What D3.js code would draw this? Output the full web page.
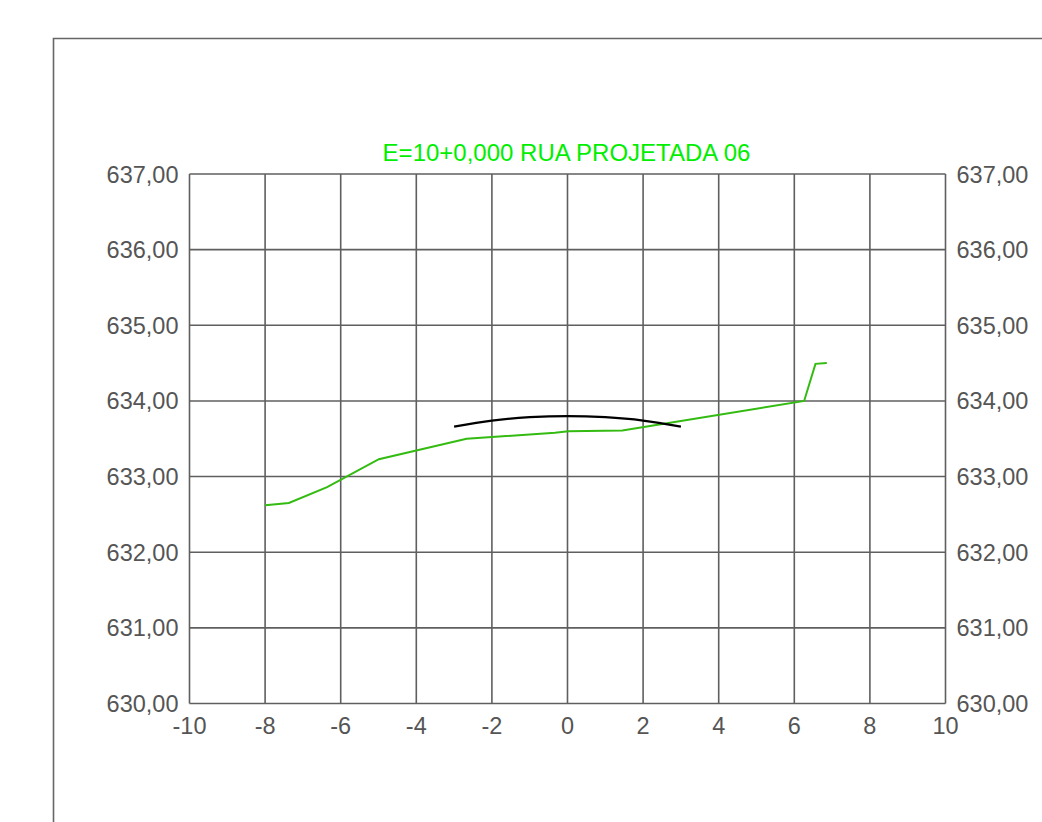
<!DOCTYPE html>
<html>
<head>
<meta charset="utf-8">
<script src="https://cdn.jsdelivr.net/npm/d3@7"></script>
<style>
  html, body { margin: 0; padding: 0; background: #fff; }
  svg { display: block; }
  text { font-family: "Liberation Sans", Arial, sans-serif; }
</style>
</head>
<body>
<svg id="chart" width="1042" height="822"></svg>
<script>
// ---- data ----
const titleText = "E=10+0,000 RUA PROJETADA 06";
const xTicks = [-10, -8, -6, -4, -2, 0, 2, 4, 6, 8, 10];
const yTicks = [630, 631, 632, 633, 634, 635, 636, 637];
const yTickLabels = ["630,00", "631,00", "632,00", "633,00", "634,00", "635,00", "636,00", "637,00"];

// terrain (green) profile
const terrainX = [-8.0, -7.37, -6.36, -4.99, -2.67, -0.33, 0.02, 1.45, 6.26, 6.56, 6.86];
const terrainY = [632.62, 632.65, 632.86, 633.23, 633.50, 633.58, 633.60, 633.61, 634.00, 634.49, 634.50];

// road crown (black) profile
const roadX = [-3.0, -2.0, -1.0, 0.0, 1.0, 2.0, 3.0];
const roadY = [633.66, 633.74, 633.785, 633.80, 633.785, 633.74, 633.66];

// ---- drawing ----
(function () {
const svg = d3.select("#chart");
const pLeft = 189.5, pRight = 945.5, pTop = 174, pBottom = 703.5;

const x = d3.scaleLinear().domain([-10, 10]).range([pLeft, pRight]);
const y = d3.scaleLinear().domain([630, 637]).range([pBottom, pTop]);

const gridColor = "#5f5f5f";
const labelColor = "#555555";
const labelSize = 23.5;

// outer frame
svg.append("path")
  .attr("d", `M53.5,830 L53.5,38.5 L1050,38.5`)
  .attr("fill", "none")
  .attr("stroke", "#666")
  .attr("stroke-width", 1.6);

// vertical grid
svg.append("g").selectAll("line").data(xTicks).join("line")
  .attr("x1", d => x(d)).attr("x2", d => x(d))
  .attr("y1", pTop).attr("y2", pBottom)
  .attr("stroke", gridColor).attr("stroke-width", 1.6);

// horizontal grid
svg.append("g").selectAll("line").data(yTicks).join("line")
  .attr("x1", pLeft).attr("x2", pRight)
  .attr("y1", d => y(d)).attr("y2", d => y(d))
  .attr("stroke", gridColor).attr("stroke-width", 1.6);

// x labels
svg.append("g").selectAll("text").data(xTicks).join("text")
  .attr("x", d => x(d)).attr("y", pBottom + 30)
  .attr("text-anchor", "middle")
  .attr("font-size", labelSize)
  .attr("fill", labelColor)
  .text(d => String(d));

// left y labels
svg.append("g").selectAll("text").data(yTicks).join("text")
  .attr("x", pLeft - 11).attr("y", d => y(d) + 8.5)
  .attr("text-anchor", "end")
  .attr("font-size", labelSize)
  .attr("fill", labelColor)
  .text((d, i) => yTickLabels[i]);

// right y labels
svg.append("g").selectAll("text").data(yTicks).join("text")
  .attr("x", pRight + 11).attr("y", d => y(d) + 8.5)
  .attr("text-anchor", "start")
  .attr("font-size", labelSize)
  .attr("fill", labelColor)
  .text((d, i) => yTickLabels[i]);

// title
svg.append("text")
  .attr("x", (x(-10) + x(10)) / 2 - 1)
  .attr("y", 161)
  .attr("text-anchor", "middle")
  .attr("font-size", 24)
  .attr("fill", "#00ee00")
  .text(titleText);

// terrain line
const terrain = terrainX.map((d, i) => [d, terrainY[i]]);
svg.append("path")
  .datum(terrain)
  .attr("fill", "none")
  .attr("stroke", "#33bb11")
  .attr("stroke-width", 2)
  .attr("d", d3.line().x(d => x(d[0])).y(d => y(d[1])));

// road line
const road = roadX.map((d, i) => [d, roadY[i]]);
svg.append("path")
  .datum(road)
  .attr("fill", "none")
  .attr("stroke", "#000")
  .attr("stroke-width", 2.2)
  .attr("d", d3.line().curve(d3.curveNatural).x(d => x(d[0])).y(d => y(d[1])));
})();
</script>
</body>
</html>
